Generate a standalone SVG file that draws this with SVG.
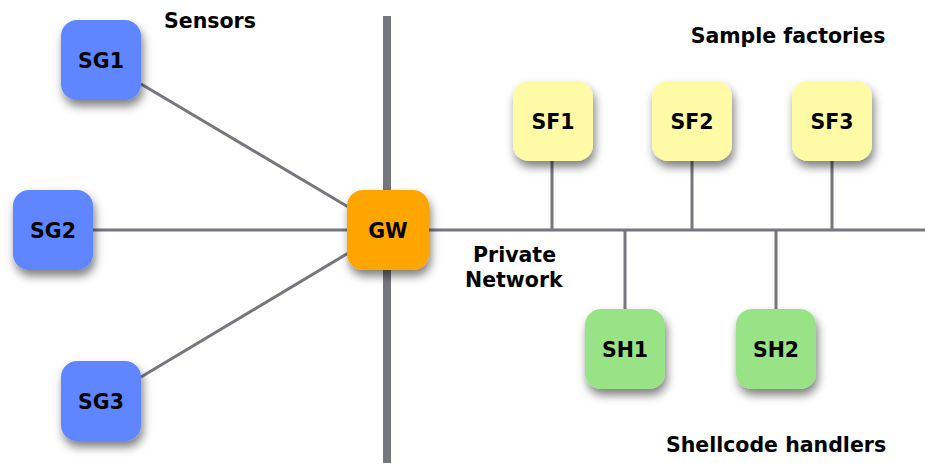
<svg xmlns="http://www.w3.org/2000/svg" width="925" height="463" viewBox="0 0 925 463">
<style>
text{font-family:"DejaVu Sans","Liberation Sans",sans-serif;font-weight:bold;fill:#000}
.lbl{font-size:20.5px;text-anchor:middle;dominant-baseline:central}
.cap{font-size:20.5px}
.ln{stroke:#76767f;stroke-width:3;fill:none}
.box{filter:url(#sh)}
</style>
<defs>
<filter id="sh" x="-30%" y="-30%" width="170%" height="170%">
<feDropShadow dx="2" dy="6" stdDeviation="5" flood-color="#000" flood-opacity="0.5"/>
</filter>
</defs>
<g id="connectors">
<line class="ln" x1="387" y1="16" x2="387" y2="463" style="stroke-width:8"/>
<line class="ln" x1="93" y1="230" x2="925" y2="230"/>
<line class="ln" x1="141" y1="84" x2="350" y2="208"/>
<line class="ln" x1="141" y1="377" x2="350" y2="252"/>
<line class="ln" x1="552" y1="160" x2="552" y2="230"/>
<line class="ln" x1="692" y1="160" x2="692" y2="230"/>
<line class="ln" x1="832" y1="160" x2="832" y2="230"/>
<line class="ln" x1="625" y1="230" x2="625" y2="310"/>
<line class="ln" x1="776" y1="230" x2="776" y2="310"/>
</g>
<g id="SG1"><rect class="box" x="61" y="20" width="80" height="80" rx="16" fill="#5f86fe"/><text class="lbl" x="101" y="61">SG1</text></g>
<g id="SG2"><rect class="box" x="13" y="190" width="80" height="80" rx="16" fill="#5f86fe"/><text class="lbl" x="53" y="231">SG2</text></g>
<g id="SG3"><rect class="box" x="61" y="361" width="80" height="80" rx="16" fill="#5f86fe"/><text class="lbl" x="101" y="402">SG3</text></g>
<g id="GW"><rect class="box" x="347" y="190" width="82" height="80" rx="16" fill="#ffa500"/><text class="lbl" x="388" y="231">GW</text></g>
<g id="SF1"><rect class="box" x="513" y="81" width="80" height="80" rx="16" fill="#fffaa5"/><text class="lbl" x="553" y="122">SF1</text></g>
<g id="SF2"><rect class="box" x="652" y="81" width="80" height="80" rx="16" fill="#fffaa5"/><text class="lbl" x="692" y="122">SF2</text></g>
<g id="SF3"><rect class="box" x="792" y="81" width="80" height="80" rx="16" fill="#fffaa5"/><text class="lbl" x="832" y="122">SF3</text></g>
<g id="SH1"><rect class="box" x="585" y="309" width="80" height="80" rx="16" fill="#98e386"/><text class="lbl" x="625" y="350">SH1</text></g>
<g id="SH2"><rect class="box" x="736" y="309" width="80" height="80" rx="16" fill="#98e386"/><text class="lbl" x="776" y="350">SH2</text></g>
<g id="labels">
<text class="cap" x="164" y="28">Sensors</text>
<text class="cap" x="788" y="43" text-anchor="middle">Sample factories</text>
<text class="cap" x="473" y="262">Private</text>
<text class="cap" x="465" y="287">Network</text>
<text class="cap" x="776" y="452" text-anchor="middle">Shellcode handlers</text>
</g>
</svg>
